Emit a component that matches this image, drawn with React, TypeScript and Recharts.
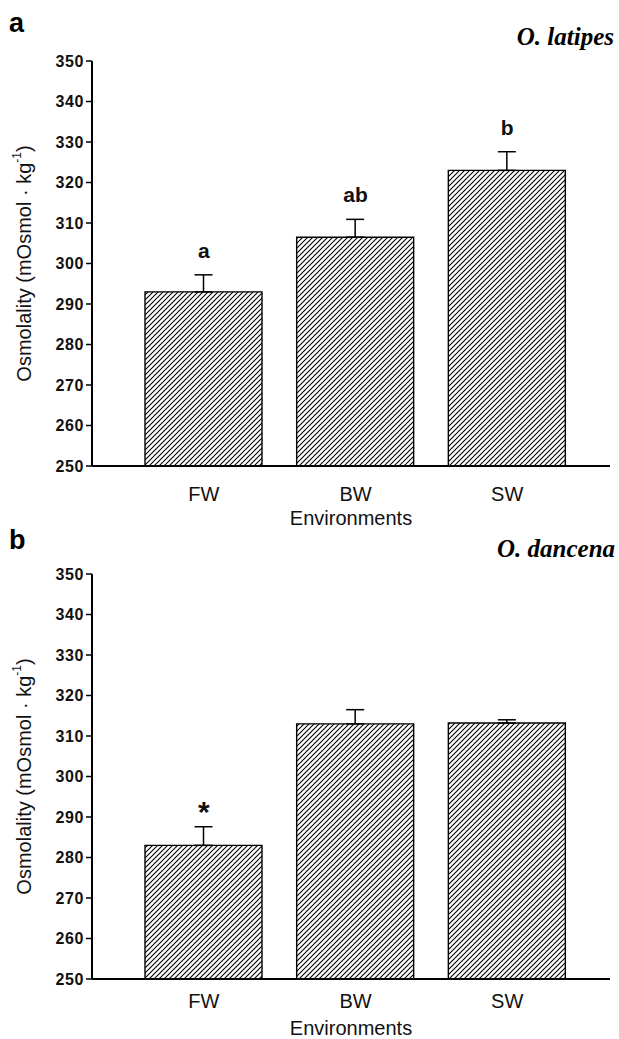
import {
  ComposedChart,
  Bar,
  Line,
  XAxis,
  YAxis,
  ErrorBar,
  LabelList,
} from 'recharts';

// Environments on the x axis
const ENVIRONMENTS = ['FW', 'BW', 'SW'];
const Y_TICKS = [250, 260, 270, 280, 290, 300, 310, 320, 330, 340, 350];

// Panel a: O. latipes plasma osmolality (mean, SE, post-hoc letters)
const LATIPES_MEAN = [293, 306.5, 323];
const LATIPES_SE = [4.2, 4.4, 4.6];
const LATIPES_SIG = ['a', 'ab', 'b'];

// Panel b: O. dancena
const DANCENA_MEAN = [283, 313, 313.2];
const DANCENA_SE = [4.6, 3.5, 0.8];
const DANCENA_SIG = ['*', '', ''];

const buildRows = (means: number[], se: number[], sig: string[]) =>
  ENVIRONMENTS.map((env, i) => ({
    env,
    mean: means[i],
    err: [0, se[i]],
    top: means[i] + se[i],
    sig: sig[i],
  }));

const FONT = 'Arial, "Liberation Sans", Helvetica, sans-serif';

function renderYLabel(props: any) {
  const vb = props.viewBox || { x: 0, y: 61, width: 92, height: 405 };
  const cx = 24;
  const cy = vb.y + vb.height / 2;
  return (
    <text
      x={cx}
      y={cy}
      transform={`rotate(-90 ${cx} ${cy})`}
      textAnchor="middle"
      dominantBaseline="central"
      fontFamily={FONT}
      fontSize={20}
      fill="#111"
    >
      Osmolality (mOsmol · kg
      <tspan baselineShift="super" fontSize={12}>-1</tspan>
      <tspan>)</tspan>
    </text>
  );
}

// letters sit ~17px above the error cap; the asterisk is larger
function renderSig(props: any) {
  const { x, y, width, value } = props;
  if (!value) return null;
  const star = value === '*';
  return (
    <text
      x={x + (width || 0) / 2}
      y={y - (star ? 5 : 17)}
      textAnchor="middle"
      fontFamily={FONT}
      fontWeight="bold"
      fontSize={star ? 30 : 21}
      fill="#111"
    >
      {value}
    </text>
  );
}

function Panel({
  id,
  rows,
  xLabelOffset,
  tickMargin,
}: {
  id: string;
  rows: any[];
  xLabelOffset: number;
  tickMargin: number;
}) {
  return (
    <ComposedChart
      width={619}
      height={530}
      data={rows}
      margin={{ top: 61, right: 9, bottom: 0, left: 0 }}
    >
      <defs>
        <pattern id={`hatch-${id}`} patternUnits="userSpaceOnUse" width={5} height={5}>
          <path
            d="M-1,1 L1,-1 M0,5 L5,0 M4,6 L6,4"
            stroke="#000"
            strokeWidth={1.1}
          />
        </pattern>
      </defs>
      <XAxis
        dataKey="env"
        padding={{ left: 36, right: 27 }}
        axisLine={{ stroke: '#000', strokeWidth: 2 }}
        tickLine={false}
        tickSize={0}
        tickMargin={tickMargin}
        tick={{ fill: '#111', fontSize: 20, fontFamily: FONT }}
        height={64}
        label={{
          value: 'Environments',
          position: 'insideBottom',
          offset: xLabelOffset,
          fill: '#111',
          fontSize: 20,
          fontFamily: FONT,
        }}
      />
      <YAxis
        domain={[250, 350]}
        ticks={Y_TICKS}
        width={92}
        interval={0}
        axisLine={{ stroke: '#000', strokeWidth: 2 }}
        tickLine={{ stroke: '#000', strokeWidth: 1.5 }}
        tickSize={6}
        tickMargin={2}
        tick={{ fill: '#111', fontSize: 16, fontWeight: 'bold', fontFamily: FONT, letterSpacing: 0.6 }}
        label={renderYLabel}
      />
      <Bar
        dataKey="mean"
        barSize={117}
        fill={`url(#hatch-${id})`}
        stroke="#000"
        strokeWidth={1.4}
        isAnimationActive={false}
      >
        <ErrorBar dataKey="err" direction="y" width={9} stroke="#000" strokeWidth={1.5} />
      </Bar>
      <Line
        dataKey="top"
        stroke="none"
        dot={false}
        activeDot={false}
        legendType="none"
        isAnimationActive={false}
      >
        <LabelList dataKey="sig" content={renderSig} />
      </Line>
    </ComposedChart>
  );
}

const panelLetter: React.CSSProperties = {
  position: 'absolute',
  left: 9,
  fontFamily: FONT,
  fontWeight: 'bold',
  fontSize: 27,
  lineHeight: 1,
};

const species: React.CSSProperties = {
  position: 'absolute',
  fontFamily: '"Liberation Serif", "Times New Roman", serif',
  fontWeight: 'bold',
  fontStyle: 'italic',
  fontSize: 25,
  lineHeight: 1,
  whiteSpace: 'nowrap',
};

export default function App() {
  const rowsA = buildRows(LATIPES_MEAN, LATIPES_SE, LATIPES_SIG);
  const rowsB = buildRows(DANCENA_MEAN, DANCENA_SE, DANCENA_SIG);
  return (
    <div
      style={{
        position: 'absolute',
        top: 0,
        left: 0,
        width: 619,
        height: 1039,
        background: '#fff',
        overflow: 'hidden',
      }}
    >
      <div style={{ position: 'absolute', top: 0, left: 0 }}>
        <Panel id="a" rows={rowsA} xLabelOffset={5} tickMargin={21} />
      </div>
      <div style={{ position: 'absolute', top: 513, left: 0 }}>
        <Panel id="b" rows={rowsB} xLabelOffset={8} tickMargin={15} />
      </div>
      <div style={{ ...panelLetter, top: 10 }}>a</div>
      <div style={{ ...species, top: 24, right: 5 }}>O. latipes</div>
      <div style={{ ...panelLetter, top: 527 }}>b</div>
      <div style={{ ...species, top: 536, left: 497 }}>O. dancena</div>
    </div>
  );
}
